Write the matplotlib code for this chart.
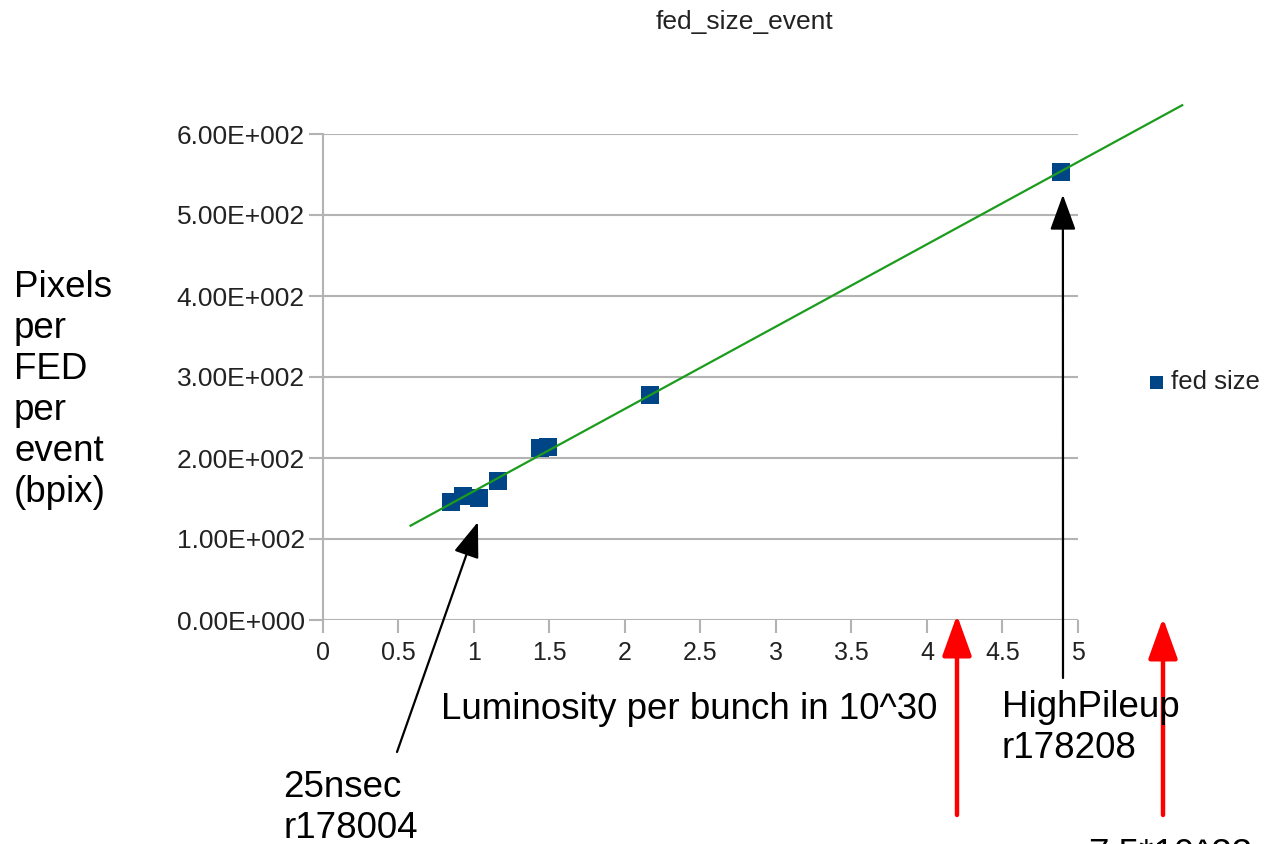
import numpy as np
import matplotlib
matplotlib.use('Agg')
import matplotlib.pyplot as plt
from matplotlib.patches import FancyArrowPatch
from matplotlib.ticker import FuncFormatter, MultipleLocator

plt.rcParams['font.family'] = ['Liberation Sans', 'DejaVu Sans']

# luminosity per bunch (1e30) vs pixels per FED per event
lumi     = [0.85, 0.93, 1.03, 1.16, 1.44, 1.49, 2.165, 4.89]
fed_size = [146, 153, 151, 172, 212, 213, 278, 553]

# linear trend line range
trend_lo, trend_hi = 0.58, 5.69

W, H = 1264, 844

def fpx(x, y):
    # pixel position measured from the top-left corner
    return (x, H - y)

fig = plt.figure(figsize=(W/100, H/100), dpi=100)
ax = fig.add_axes([323/W, 1-620/H, (1078-323)/W, (620-134)/H])

grid_c = '#b3b3b3'
text_c = '#222222'
big = 26.5

ax.scatter(lumi, fed_size, marker='s', s=13**2, color='#004586', zorder=3,
           linewidths=0, label='fed size', clip_on=False)

coef = np.polyfit(lumi, fed_size, 1)
tx = np.array([trend_lo, trend_hi])
ax.plot(tx, np.polyval(coef, tx), color='#1c9c1c', lw=1.6, zorder=4, clip_on=False)

ax.set_xlim(0, 5)
ax.set_ylim(0, 600)
ax.xaxis.set_major_locator(MultipleLocator(0.5))
ax.yaxis.set_major_locator(MultipleLocator(100))
ax.xaxis.set_major_formatter(FuncFormatter(lambda v, p: f'{v:g}'))

def sci3(v, p):
    if v == 0:
        return '0.00E+000'
    e = int(np.floor(np.log10(abs(v))))
    return f'{v/10**e:.2f}E+{e:03d}'
ax.yaxis.set_major_formatter(FuncFormatter(sci3))

ax.grid(axis='y', color=grid_c, lw=1.5)
ax.set_axisbelow(True)
for s in ['top', 'right', 'bottom']:
    ax.spines[s].set_visible(False)
ax.spines['left'].set_color(grid_c)
ax.spines['left'].set_linewidth(1.5)
ax.tick_params(axis='both', colors=grid_c, width=1.5, labelcolor=text_c)
ax.tick_params(axis='y', length=10, pad=3, labelsize=19)
ax.tick_params(axis='x', length=9, pad=6, labelsize=18)

fig.text(744/W, 1-22/H, 'fed_size_event', ha='center', va='center',
         fontsize=19, color=text_c)

fig.text(14/W, 1-270/H, 'Pixels\nper\nFED\nper\nevent\n(bpix)', ha='left', va='top',
         fontsize=big, linespacing=1.22, color='black')
fig.text(441/W, 1-719/H, 'Luminosity per bunch in 10^30', ha='left', va='baseline',
         fontsize=big, color='black')
fig.text(1002/W, 1-758/H, 'HighPileup\nr178208', ha='left', va='baseline',
         fontsize=big, linespacing=1.22, color='black', zorder=1)
fig.text(283/W, 1-838/H, '25nsec\nr178004', ha='left', va='baseline',
         fontsize=big, linespacing=1.22, color='black')
fig.text(1088/W, 1-838/H, '7.5*10^33', ha='left', va='top',
         fontsize=big, color='black')

fig.legend(loc='center left', bbox_to_anchor=(1148/W, 1-382/H), frameon=False,
           fontsize=18.5, markerscale=0.72, handlelength=0.6, handletextpad=0.3,
           borderpad=0, borderaxespad=0, labelcolor=text_c)

black_arrow = dict(arrowstyle='-|>,head_length=22,head_width=8', mutation_scale=1,
                   color='black', lw=1.6, shrinkA=0, shrinkB=0)
ax.annotate('', xy=(1.026, 121), xycoords='data',
            xytext=fpx(397, 752), textcoords='figure pixels',
            arrowprops=black_arrow, annotation_clip=False)
ax.annotate('', xy=(4.90, 525), xycoords='data',
            xytext=fpx(1063, 678), textcoords='figure pixels',
            arrowprops=black_arrow, annotation_clip=False)

red_arrow = dict(arrowstyle='-|>,head_length=25,head_width=9', mutation_scale=1,
                 color='#ff0000', lw=3.2, shrinkA=0, shrinkB=0)
for xp, ytop in [(957, 615), (1163, 618)]:
    fig.add_artist(FancyArrowPatch(fpx(xp, 815), fpx(xp, ytop),
                                   transform=None, **red_arrow))

fig.savefig('out.png', dpi=100)
